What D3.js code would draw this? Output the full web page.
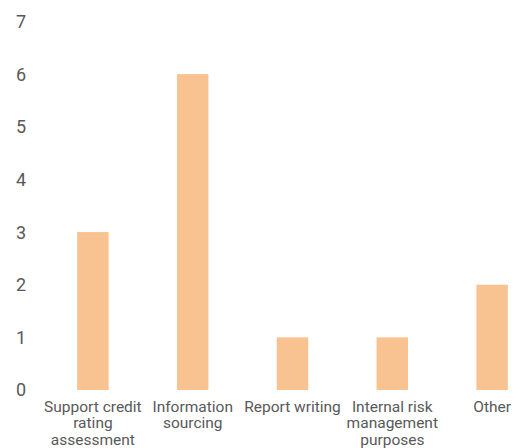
<!DOCTYPE html>
<html>
<head>
<meta charset="utf-8">
<script src="https://cdn.jsdelivr.net/npm/d3@7"></script>
<style>
  body { margin: 0; background: #fff; }
  text { font-family: Roboto, "Liberation Sans", Arial, sans-serif; fill: #595959; }
</style>
</head>
<body>
<div id="chart"></div>
<script>
const width = 514;
const height = 448;

const categories = [
    ['Support credit', 'rating', 'assessment'],
    ['Information', 'sourcing'],
    ['Report writing'],
    ['Internal risk', 'management', 'purposes'],
    ['Other']
];
const values = [3, 6, 1, 1, 2];
const yTicks = [0, 1, 2, 3, 4, 5, 6, 7];

const x = d3.scaleBand()
    .domain(d3.range(categories.length))
    .range([43, 542])
    .paddingInner(0.685)
    .paddingOuter(0.3425);

const y = d3.scaleLinear()
    .domain([0, 7])
    .range([390, 21.5]);

let svg = d3.select('#chart')
    .append('svg')
    .attr('width', width)
    .attr('height', height);

// y labels, no axis line
svg.append('g')
    .selectAll('text')
    .data(yTicks)
    .enter()
    .append('text')
    .attr('x', 21)
    .attr('y', d => y(d))
    .attr('dy', '0.36em')
    .attr('text-anchor', 'middle')
    .style('font-size', '18px')
    .text(d => d);

svg.append('g')
    .selectAll('rect')
    .data(values)
    .enter()
    .append('rect')
    .attr('x', (d, i) => x(i))
    .attr('width', x.bandwidth())
    .attr('y', d => y(d))
    .attr('height', d => y(0) - y(d))
    .style('fill', '#F9C291');

let labels = svg.append('g')
    .selectAll('text')
    .data(categories)
    .enter()
    .append('text')
    .attr('text-anchor', 'middle')
    .style('font-size', '15.5px')
    .attr('transform', (d, i) => 'translate(' + (x(i) + x.bandwidth() / 2) + ',411.5)');

labels.selectAll('tspan')
    .data(d => d)
    .enter()
    .append('tspan')
    .attr('x', 0)
    .attr('y', (d, i) => i * 16.5)
    .text(d => d);
</script>
</body>
</html>
